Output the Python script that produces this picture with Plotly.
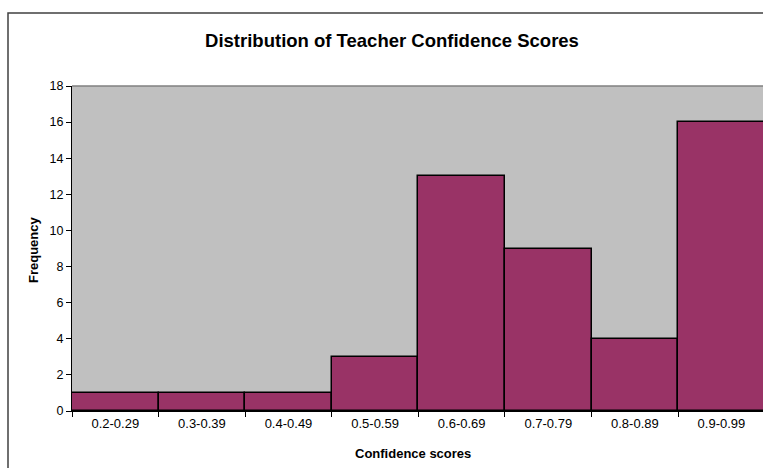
import plotly.graph_objects as go

categories = ["0.2-0.29", "0.3-0.39", "0.4-0.49", "0.5-0.59", "0.6-0.69", "0.7-0.79", "0.8-0.89", "0.9-0.99"]
frequency = [1, 1, 1, 3, 13, 9, 4, 16]
y_ticks = [0, 2, 4, 6, 8, 10, 12, 14, 16, 18]

W, H = 763, 468
L, R, T, B = 72, 0, 86, 57
pw = W - L - R
ph = H - T - B

FONT = "Arial, Liberation Sans, sans-serif"

fig = go.Figure()
fig.add_trace(go.Bar(
    x=categories, y=frequency,
    width=1.0,
    marker=dict(color="#993366", line=dict(color="#000000", width=1.5)),
    hoverinfo="x+y",
))

def px_x(p):
    return (p - L) / pw

def px_y(p):
    return (H - B - p) / ph

fig.update_layout(
    width=W, height=H, autosize=False,
    margin=dict(l=L, r=R, t=T, b=B, pad=0),
    paper_bgcolor="#FFFFFF",
    plot_bgcolor="#C0C0C0",
    showlegend=False,
    bargap=0,
    font=dict(family=FONT, size=13, color="#000000"),
    title=dict(text="<b>Distribution of Teacher Confidence Scores</b>",
               x=392 / W, xref="container", xanchor="center",
               y=1 - 41 / H, yref="container", yanchor="middle",
               font=dict(family=FONT, size=18.5, color="#000000")),
    xaxis=dict(type="category", range=[-0.5, 7.48],
               tickson="boundaries", ticks="outside", ticklen=5, tickwidth=1,
               tickcolor="#000000", showline=True, linecolor="#000000", linewidth=1,
               showgrid=False, zeroline=False,
               tickfont=dict(family=FONT, size=13, color="#000000")),
    yaxis=dict(range=[0, 18], tickvals=y_ticks, ticks="outside", ticklen=5, tickwidth=1,
               tickcolor="#000000", showline=True, linecolor="#000000", linewidth=1,
               showgrid=False, zeroline=False,
               tickfont=dict(family=FONT, size=12.5, color="#000000")),
    shapes=[
        # chart area border
        dict(type="rect", xref="paper", yref="paper",
             x0=px_x(8), x1=px_x(800), y0=px_y(520), y1=px_y(13),
             line=dict(color="#404040", width=1.5), fillcolor="rgba(0,0,0,0)", layer="above"),
        # plot area top border
        dict(type="line", xref="paper", yref="paper",
             x0=0, x1=1.05, y0=1, y1=1,
             line=dict(color="#808080", width=1.5), layer="below"),
    ],
    annotations=[
        dict(text="<b>Frequency</b>", xref="paper", yref="paper",
             x=px_x(33), y=px_y(250), textangle=-90, showarrow=False,
             xanchor="center", yanchor="middle",
             font=dict(family=FONT, size=13, color="#000000")),
        dict(text="<b>Confidence scores</b>", xref="paper", yref="paper",
             x=px_x(413), y=px_y(453), showarrow=False,
             xanchor="center", yanchor="middle",
             font=dict(family=FONT, size=13, color="#000000")),
    ],
)

fig.write_html(
    "out.html",
    config={"displayModeBar": False},
    post_script="document.body.style.margin='0';document.body.style.overflow='hidden';"
                "document.documentElement.style.overflow='hidden';",
)
